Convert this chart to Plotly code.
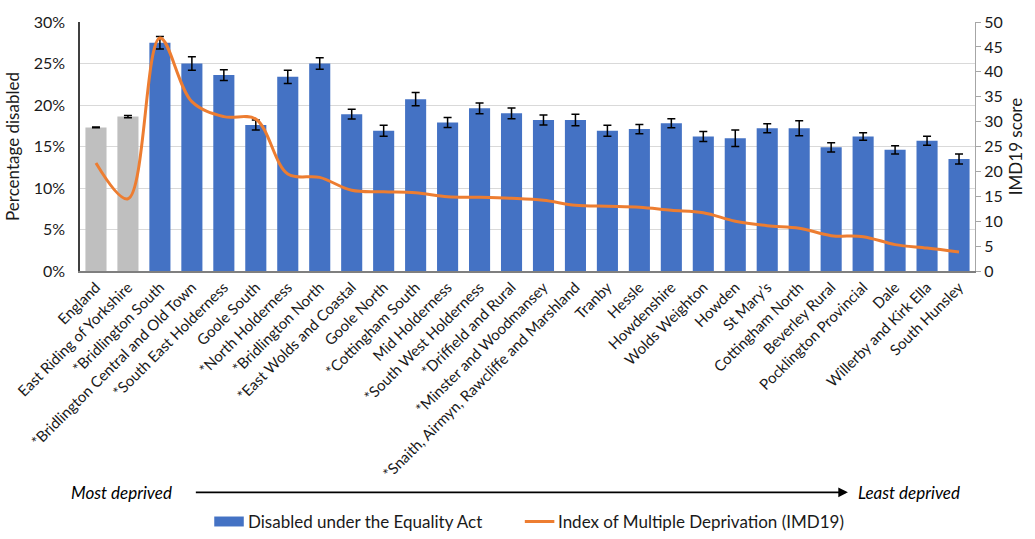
import plotly.graph_objects as go

# Wards ordered from most to least deprived (benchmarks first)
areas = [
    "England", "East Riding of Yorkshire", "*Bridlington South",
    "*Bridlington Central and Old Town", "*South East Holderness", "Goole South",
    "*North Holderness", "*Bridlington North", "*East Wolds and Coastal",
    "Goole North", "*Cottingham South", "Mid Holderness",
    "*South West Holderness", "*Driffield and Rural", "*Minster and Woodmansey",
    "*Snaith, Airmyn, Rawcliffe and Marshland", "Tranby", "Hessle",
    "Howdenshire", "Wolds Weighton", "Howden", "St Mary\u2019s",
    "Cottingham North", "Beverley Rural", "Pocklington Provincial", "Dale",
    "Willerby and Kirk Ella", "South Hunsley",
]

# Percentage disabled under the Equality Act
disabled_pct = [
    17.3, 18.6, 27.5, 25.0, 23.6, 17.6, 23.4, 25.0, 18.9, 16.9,
    20.7, 17.9, 19.6, 19.0, 18.2, 18.2, 16.9, 17.1, 17.8, 16.2,
    16.0, 17.2, 17.2, 14.9, 16.2, 14.6, 15.7, 13.5,
]

# 95% confidence interval half-widths
disabled_ci = [
    0.05, 0.15, 0.75, 0.8, 0.65, 0.6, 0.8, 0.7, 0.6, 0.65,
    0.8, 0.6, 0.65, 0.65, 0.6, 0.7, 0.65, 0.55, 0.55, 0.6,
    1.0, 0.55, 0.9, 0.55, 0.45, 0.5, 0.55, 0.6,
]

# Index of Multiple Deprivation 2019 score
imd_score = [
    21.7, 14.5, 46.8, 34.0, 31.0, 30.5, 19.5, 18.8, 16.2, 15.9,
    15.7, 14.9, 14.8, 14.6, 14.2, 13.2, 13.0, 12.8, 12.2, 11.7,
    10.0, 9.1, 8.6, 7.1, 6.9, 5.3, 4.6, 3.8,
]

BLUE = "#4472C4"
GREY = "#BFBFBF"
ORANGE = "#ED7D31"
FONT = "Lato, 'Open Sans', sans-serif"
TEXT = "#1a1a1a"

bar_colors = [GREY if a in ("England", "East Riding of Yorkshire") else BLUE for a in areas]

fig = go.Figure()

fig.add_trace(go.Bar(
    x=areas, y=disabled_pct,
    marker=dict(color=bar_colors, line=dict(width=0)),
    error_y=dict(type="data", array=disabled_ci, visible=True,
                 color="#000000", thickness=1.5, width=4),
    name="Disabled under the Equality Act",
    showlegend=False,
))

fig.add_trace(go.Scatter(
    x=areas, y=imd_score, yaxis="y2", mode="lines",
    line=dict(color=ORANGE, width=3, shape="spline", smoothing=1.0),
    name="Index of Multiple Deprivation (IMD19)",
    showlegend=False,
))

fig.update_layout(
    width=1035, height=539,
    margin=dict(l=80, r=56, t=19, b=268),
    paper_bgcolor="white", plot_bgcolor="white",
    font=dict(family=FONT, size=15, color=TEXT),
    bargap=0.34,
    xaxis=dict(
        type="category", tickangle=-45, tickfont=dict(size=15),
        showline=True, linecolor="#7F7F7F", linewidth=1.5,
        showgrid=False, ticks="",
    ),
    yaxis=dict(
        range=[0, 30], dtick=5, ticksuffix="%", tickfont=dict(size=16),
        showgrid=True, gridcolor="#D9D9D9", gridwidth=1,
        showline=True, linecolor="#404040", linewidth=1.5,
        zeroline=False, ticks="", ticklabelstandoff=10,
        title=dict(text="Percentage disabled", standoff=10, font=dict(size=17)),
    ),
    yaxis2=dict(
        range=[0, 50], dtick=5, overlaying="y", side="right",
        tickfont=dict(size=16),
        showgrid=False, zeroline=False,
        showline=True, linecolor="#A6A6A6", linewidth=1,
        ticks="outside", ticklen=5, tickcolor="#A6A6A6",
        title=dict(text="IMD19 score", standoff=8, font=dict(size=17)),
    ),
)

# Deprivation direction arrow beneath the category labels
plot_w = 1035 - 80 - 56
arrow_y = -0.889
arrow_x0, arrow_x1 = 0.131, 0.858
fig.add_annotation(xref="paper", yref="paper", x=0.046, y=arrow_y,
                   xanchor="center", yanchor="middle",
                   text="<i>Most deprived</i>", showarrow=False,
                   font=dict(size=17, color="#000000"))
fig.add_annotation(xref="paper", yref="paper", x=arrow_x1, y=arrow_y,
                   ax=-(arrow_x1 - arrow_x0) * plot_w, ay=0,
                   axref="pixel", ayref="pixel",
                   text="", showarrow=True, arrowhead=2, arrowsize=1.2,
                   arrowwidth=1.6, arrowcolor="#000000")
fig.add_annotation(xref="paper", yref="paper", x=0.926, y=arrow_y,
                   xanchor="center", yanchor="middle",
                   text="<i>Least deprived</i>", showarrow=False,
                   font=dict(size=17, color="#000000"))

# Legend drawn beneath the arrow
leg_y = -1.006
fig.add_shape(type="rect", xref="paper", yref="paper",
              x0=0.150, x1=0.183, y0=leg_y - 0.02, y1=leg_y + 0.02,
              fillcolor=BLUE, line=dict(width=0))
fig.add_annotation(xref="paper", yref="paper", x=0.186, y=leg_y,
                   xanchor="left", yanchor="middle",
                   text="Disabled under the Equality Act",
                   showarrow=False, font=dict(size=17, color=TEXT))
fig.add_shape(type="line", xref="paper", yref="paper",
              x0=0.497, x1=0.530, y0=leg_y, y1=leg_y,
              line=dict(color=ORANGE, width=3))
fig.add_annotation(xref="paper", yref="paper", x=0.532, y=leg_y,
                   xanchor="left", yanchor="middle",
                   text="Index of Multiple Deprivation (IMD19)",
                   showarrow=False, font=dict(size=17, color=TEXT))

fig.write_html("out.html")
